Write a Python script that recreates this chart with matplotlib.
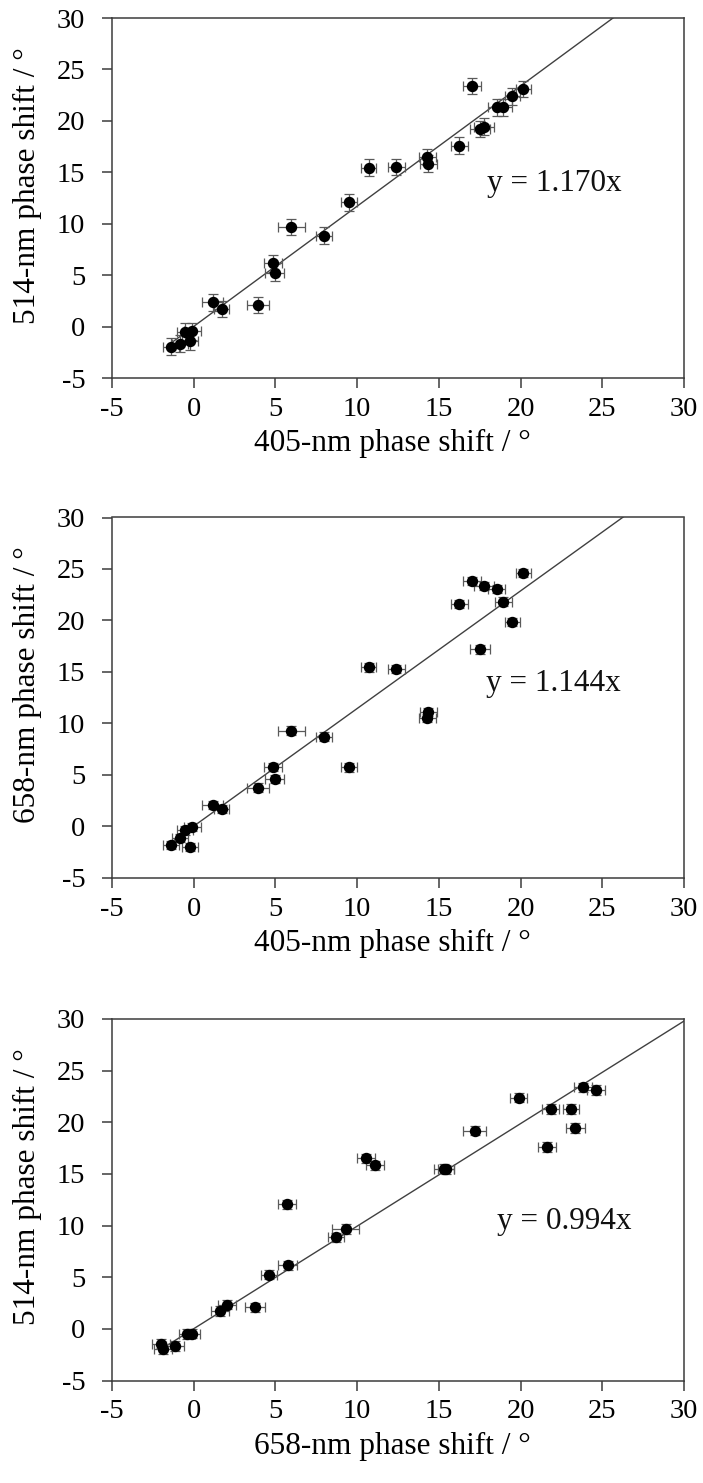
import matplotlib
matplotlib.use("Agg")
import matplotlib.pyplot as plt
import numpy as np

plt.rcParams['font.family'] = ['Liberation Serif', 'DejaVu Serif']
plt.rcParams['axes.unicode_minus'] = False

# Phase shifts (degrees) of the same 25 samples at three wavelengths
shift_405 = [-1.38, -0.82, -0.52, -0.07, -0.21, 1.17, 1.72, 3.94, 4.84, 4.96,
             5.98, 7.98, 9.53, 10.71, 12.40, 14.29, 14.35, 16.25, 17.04, 17.51,
             17.76, 18.53, 18.94, 19.47, 20.16]
shift_514 = [-1.95, -1.65, -0.50, -0.47, -1.45, 2.35, 1.72, 2.08, 6.15, 5.25,
             9.67, 8.85, 12.07, 15.45, 15.50, 16.50, 15.85, 17.60, 23.37, 19.20,
             19.45, 21.30, 21.30, 22.37, 23.12]
shift_658 = [-1.85, -1.12, -0.40, -0.10, -2.00, 2.05, 1.65, 3.77, 5.75, 4.60,
             9.30, 8.72, 5.72, 15.44, 15.31, 10.55, 11.07, 21.60, 23.80, 17.18,
             23.34, 23.08, 21.83, 19.88, 24.60]

# Uncertainties (degrees)
err_405 = [0.50, 0.50, 0.50, 0.50, 0.50, 0.66, 0.48, 0.65, 0.56, 0.56,
           0.84, 0.49, 0.49, 0.47, 0.51, 0.51, 0.51, 0.51, 0.54, 0.62,
           0.60, 0.50, 0.50, 0.46, 0.45]
err_514_a = [0.80] * 25
err_658_b = [0.40] * 25
err_658_c = [0.55, 0.55, 0.50, 0.50, 0.55, 0.55, 0.55, 0.63, 0.56, 0.50,
             0.83, 0.50, 0.56, 0.50, 0.60, 0.55, 0.55, 0.56, 0.55, 0.69,
             0.56, 0.50, 0.50, 0.51, 0.55]
err_514_c = [0.45] * 25

# Zero-intercept fit slopes
slopes = [1.170, 1.144, 0.994]

ticks = [-5, 0, 5, 10, 15, 20, 25, 30]

panels = [
    dict(x=shift_405, y=shift_514, xerr=err_405, yerr=err_514_a, slope=slopes[0],
         xlabel="405-nm phase shift / °", ylabel="514-nm phase shift / °",
         text_xy=(17.95, 13.9)),
    dict(x=shift_405, y=shift_658, xerr=err_405, yerr=err_658_b, slope=slopes[1],
         xlabel="405-nm phase shift / °", ylabel="658-nm phase shift / °",
         text_xy=(17.9, 13.9)),
    dict(x=shift_658, y=shift_514, xerr=err_658_c, yerr=err_514_c, slope=slopes[2],
         xlabel="658-nm phase shift / °", ylabel="514-nm phase shift / °",
         text_xy=(18.55, 10.4)),
]

W, H = 703, 1483
fig = plt.figure(figsize=(W / 100, H / 100), dpi=100)

boxes = [(18, 378), (517.5, 877.8), (1019, 1380.5)]
left_px, right_px = 111.7, 684.3
spine_col = "#3c3c3c"

for (top, bot), p in zip(boxes, panels):
    ax = fig.add_axes([left_px / W, 1 - bot / H, (right_px - left_px) / W, (bot - top) / H])
    ax.set_xlim(-5, 30)
    ax.set_ylim(-5, 30)
    ax.set_xticks(ticks)
    ax.set_yticks(ticks)
    ax.tick_params(direction="out", length=7, width=1.1, color=spine_col,
                   labelsize=20.5, top=False, right=False)
    ax.tick_params(axis="x", pad=6.5)
    ax.tick_params(axis="y", pad=12)
    for s in ax.spines.values():
        s.set_color(spine_col)
        s.set_linewidth(1.1)

    xs = np.linspace(min(p["x"]), 30, 200)
    ax.plot(xs, p["slope"] * xs, color="#404040", lw=1.0, zorder=2)

    ax.errorbar(p["x"], p["y"], xerr=p["xerr"], yerr=p["yerr"], fmt="none",
                ecolor="#5a5a5a", elinewidth=0.9, capsize=3.5, capthick=0.9, zorder=3)
    ax.plot(p["x"], p["y"], "o", color="black", ms=7.2, zorder=4)

    ax.text(p["text_xy"][0], p["text_xy"][1], "y = %.3fx" % p["slope"],
            fontsize=22.5, va="center", ha="left", color="#111111")
    ax.set_xlabel(p["xlabel"], fontsize=22.5)
    ax.set_ylabel(p["ylabel"], fontsize=22.5)
    ax.xaxis.set_label_coords(0.49, -0.142)
    ax.yaxis.set_label_coords(-0.122, 0.535)

fig.savefig("out.png", dpi=100)
